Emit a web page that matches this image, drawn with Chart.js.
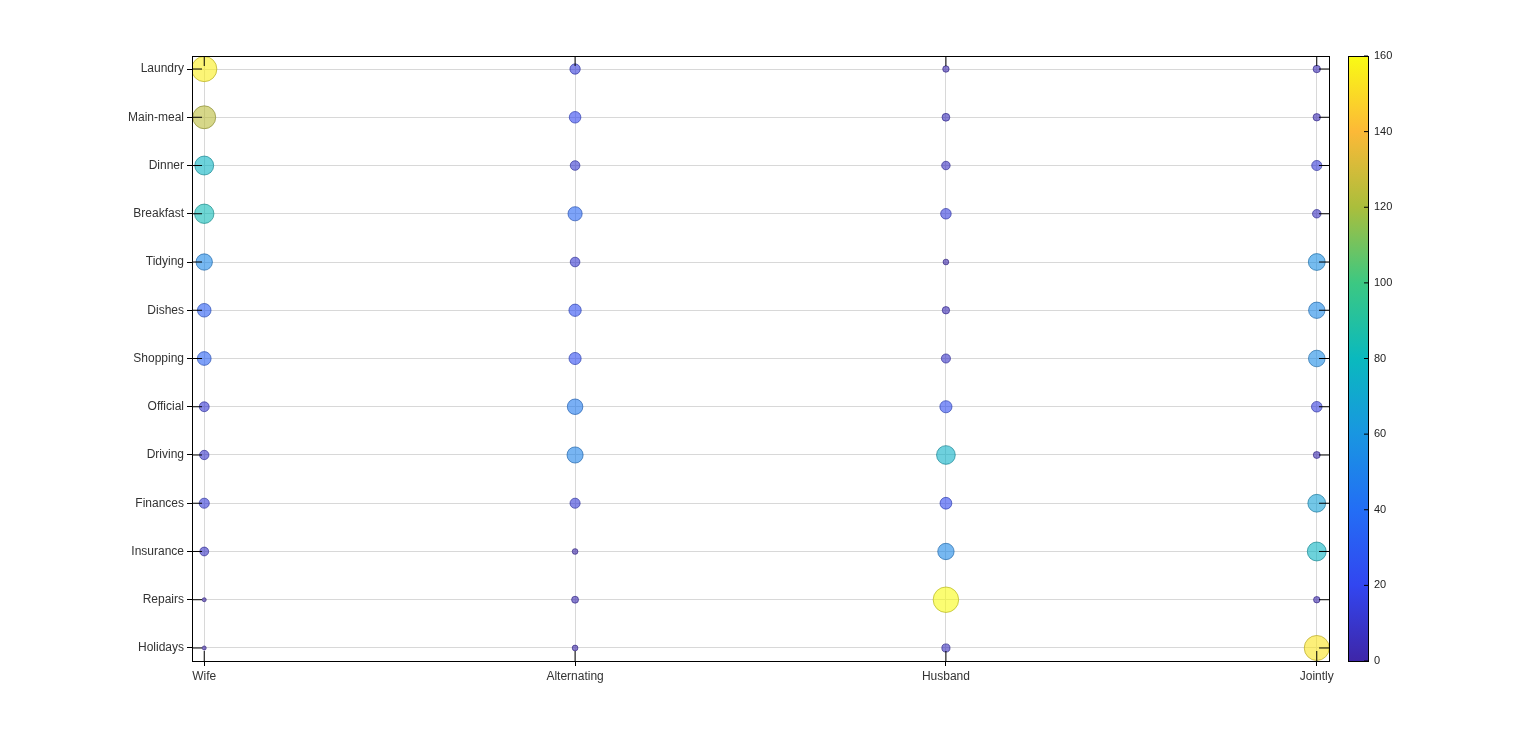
<!DOCTYPE html><html><head><meta charset="utf-8">
<script src="https://cdn.jsdelivr.net/npm/chart.js@4"></script>
<style>html,body{margin:0;background:#fff}#w{width:1536px;height:744px}</style></head><body><div id="w"><canvas id="c"></canvas></div>
<script>
const tasks=["Laundry","Main-meal","Dinner","Breakfast","Tidying","Dishes","Shopping","Official","Driving","Finances","Insurance","Repairs","Holidays"];
const who=["Wife","Alternating","Husband","Jointly"];
const wife=[156,124,77,82,53,32,33,12,10,13,8,0,0];
const alternating=[14,20,11,36,11,24,23,46,51,13,1,3,1];
const husband=[2,5,7,15,1,4,9,23,75,21,53,160,6];
const jointly=[4,4,13,7,57,53,55,15,3,66,77,2,153];
const cbTicks=[0,20,40,60,80,100,120,140,160];
const stops=[[62,38,168],[50,70,240],[35,110,245],[25,150,225],[10,185,190],[60,200,130],[170,190,60],[252,185,55],[249,251,20]];
function cmap(v){const t=Math.max(0,Math.min(1,v/160))*(stops.length-1);const i=Math.min(Math.floor(t),stops.length-2),f=t-i;const a=stops[i],b=stops[i+1];return [0,1,2].map(k=>Math.round(a[k]+(b[k]-a[k])*f));}
const cols=[wife,alternating,husband,jointly];
const pts=[];
cols.forEach((arr,xi)=>arr.forEach((v,yi)=>pts.push({x:xi,y:yi,v})));
const FONT='"Liberation Sans", Arial, sans-serif';
const cbPlugin={id:'cb',afterDraw(ch){const c=ch.ctx,a=ch.chartArea;const x0=1348,w=20,top=a.top,bot=a.bottom;
const g=c.createLinearGradient(0,bot,0,top);stops.forEach((s,i)=>g.addColorStop(i/(stops.length-1),`rgb(${s})`));
c.fillStyle=g;c.fillRect(x0,top,w,bot-top);c.strokeStyle='#000';c.lineWidth=1;c.strokeRect(x0+.5,top+.5,w,bot-top);
c.fillStyle='#222';c.font='11px '+FONT;c.textBaseline='middle';c.textAlign='left';
cbTicks.forEach(t=>{const y=bot-(bot-top)*t/160;c.beginPath();c.moveTo(x0+w-4,y);c.lineTo(x0+w,y);c.stroke();c.fillText(t,x0+w+6,y);});
c.strokeStyle='#000';c.strokeRect(a.left+.5,a.top+.5,a.right-a.left,a.bottom-a.top);
c.beginPath();
ch.scales.y.ticks.forEach(t=>{const y=ch.scales.y.getPixelForValue(t.value);c.moveTo(a.left,y);c.lineTo(a.left+10,y);c.moveTo(a.right-10,y);c.lineTo(a.right,y);});
ch.scales.x.ticks.forEach(t=>{const x=ch.scales.x.getPixelForValue(t.value);c.moveTo(x,a.bottom);c.lineTo(x,a.bottom-10);c.moveTo(x,a.top);c.lineTo(x,a.top+10);});
c.stroke();}};
new Chart(document.getElementById('c'),{type:'bubble',data:{datasets:[{data:pts,
backgroundColor:pts.map(p=>{const c=cmap(p.v);return `rgba(${c},0.6)`}),
borderColor:pts.map(p=>{const c=cmap(p.v);return `rgba(${c.map(x=>x*0.7|0)},0.8)`}),borderWidth:0.8,
radius:pts.map(p=>2+0.85*Math.sqrt(p.v))}]},
options:{responsive:true,maintainAspectRatio:false,animation:false,layout:{padding:{top:56,right:207,left:0,bottom:0}},
plugins:{legend:{display:false},tooltip:{enabled:false}},
scales:{x:{type:'linear',min:-0.033,max:3.033,afterFit(s){s.height=83},afterBuildTicks(s){s.ticks=who.map((_,i)=>({value:i}))},
ticks:{callback:v=>who[v],color:'#333',font:{size:12,family:FONT},maxRotation:0,autoSkip:false},grid:{color:'#d8d8d8',tickColor:'#000',tickLength:5},border:{color:'#000'}},
y:{type:'linear',min:-0.27,max:12.27,reverse:true,afterFit(s){s.width=192},afterBuildTicks(s){s.ticks=tasks.map((_,i)=>({value:i}))},
ticks:{callback:v=>tasks[v],color:'#333',font:{size:12,family:FONT},autoSkip:false},grid:{color:'#d8d8d8',tickColor:'#000',tickLength:5},border:{color:'#000'}}}},
plugins:[cbPlugin]});
</script></body></html>
